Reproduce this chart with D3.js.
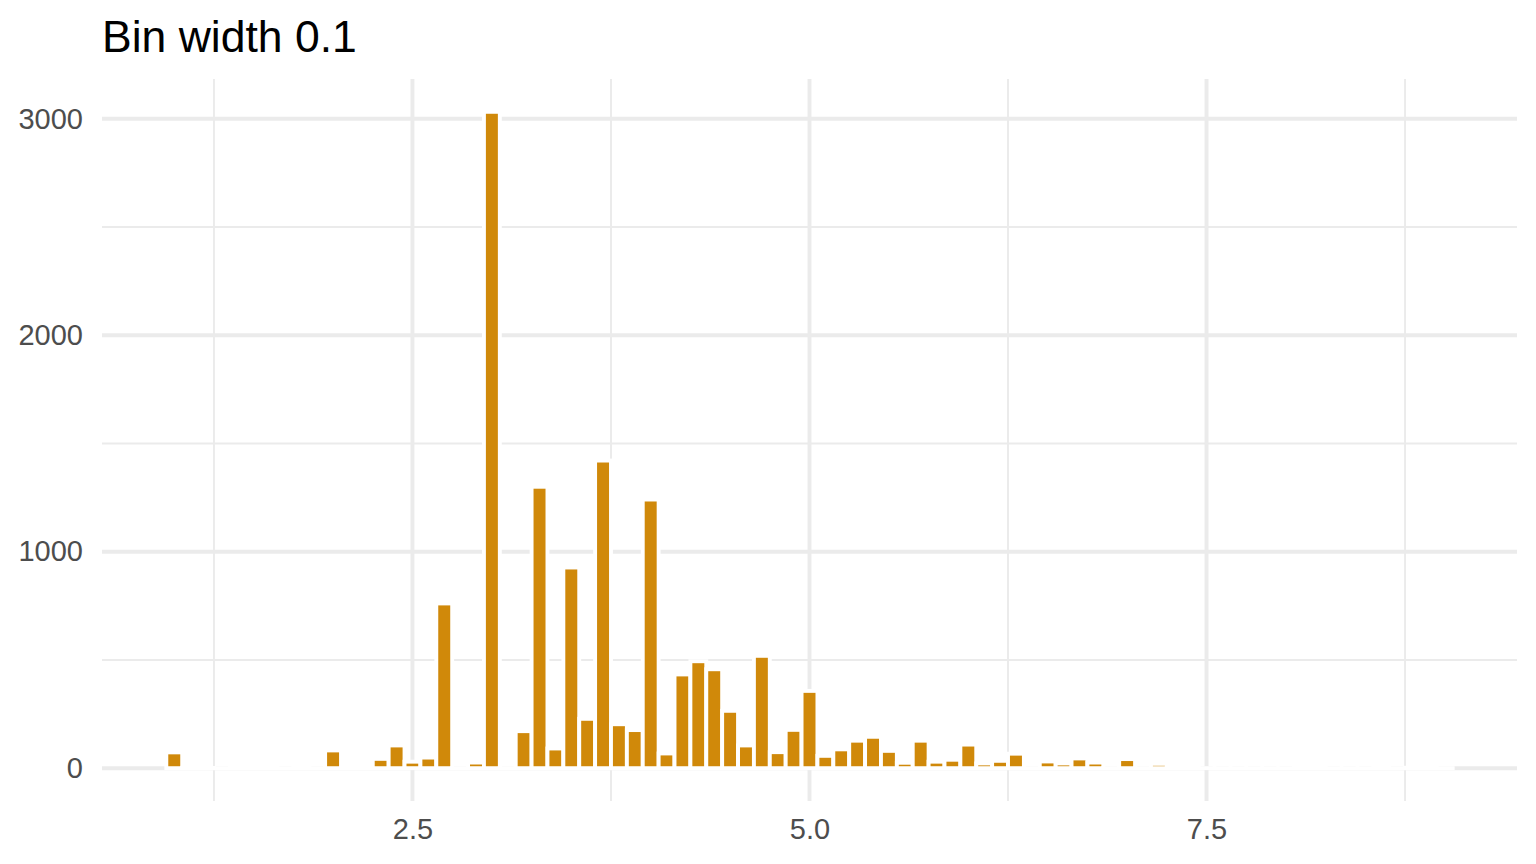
<!DOCTYPE html>
<html>
<head>
<meta charset="utf-8">
<script src="https://cdn.jsdelivr.net/npm/d3@7"></script>
<style>
  body { margin: 0; background: #fff; }
  svg { display: block; font-family: "Liberation Sans", Arial, sans-serif; }
</style>
</head>
<body>
<svg id="chart"></svg>
<script>
// bin centres (width 0.1) and counts
const binMids = [
  1.0, 1.1, 1.2, 1.3, 1.4, 1.5, 1.6, 1.7, 1.8, 1.9,
  2.0, 2.1, 2.2, 2.3, 2.4, 2.5, 2.6, 2.7, 2.8, 2.9,
  3.0, 3.1, 3.2, 3.3, 3.4, 3.5, 3.6, 3.7, 3.8, 3.9,
  4.0, 4.1, 4.2, 4.3, 4.4, 4.5, 4.6, 4.7, 4.8, 4.9,
  5.0, 5.1, 5.2, 5.3, 5.4, 5.5, 5.6, 5.7, 5.8, 5.9,
  6.0, 6.1, 6.2, 6.3, 6.4, 6.5, 6.6, 6.7, 6.8, 6.9,
  7.0, 7.1, 7.2, 7.3, 7.4, 7.5, 7.6, 7.7, 7.8, 7.9,
  8.0, 8.1, 8.2, 8.3, 8.4, 8.5, 8.6, 8.7, 8.8, 8.9,
  9.0
];
const counts = [
  73, 2, 1, 0, 1, 2, 1, 0, 1, 0,
  82, 2, 1, 43, 105, 30, 49, 761, 0, 26,
  3032, 0, 171, 1300, 91, 927, 228, 1421, 203, 176,
  1241, 68, 433, 494, 457, 265, 105, 519, 74, 177,
  357, 57, 87, 127, 145, 80, 25, 127, 30, 39,
  109, 22, 34, 67, 0, 31, 22, 45, 26, 0,
  42, 0, 20, 2, 1, 0, 0, 0, 0, 0,
  0, 1, 1, 0, 0, 0, 1, 0, 2, 1,
  0
];
const binWidth = 0.1;
const xMajor = [2.5, 5.0, 7.5];
const xMinor = [1.25, 3.75, 6.25, 8.75];
const yMajor = [0, 1000, 2000, 3000];
const yMinor = [500, 1500, 2500];
const title = "Bin width 0.1";

const W = 1536, H = 864;
const margin = { top: 79, right: 19, bottom: 63, left: 102 };

const svg = d3.select("#chart").attr("width", W).attr("height", H);

const bins = binMids.map((m, i) => ({ x0: m - binWidth / 2, x1: m + binWidth / 2, n: counts[i] }));

// ggplot-style 5% expansion
const xlo = d3.min(bins, d => d.x0), xhi = d3.max(bins, d => d.x1);
const xpad = (xhi - xlo) * 0.05;
const ymax = d3.max(counts), ypad = ymax * 0.05;

const x = d3.scaleLinear()
  .domain([xlo - xpad, xhi + xpad])
  .range([margin.left, W - margin.right]);
const y = d3.scaleLinear()
  .domain([-ypad, ymax + ypad])
  .range([H - margin.bottom, margin.top]);

const grid = svg.append("g").attr("stroke", "#EBEBEB").attr("fill", "none");
const [py0, py1] = y.range();
const [px0, px1] = x.range();

grid.selectAll(".xminor").data(xMinor).enter().append("line")
  .attr("x1", d => x(d)).attr("x2", d => x(d))
  .attr("y1", py0).attr("y2", py1).attr("stroke-width", 1.95);
grid.selectAll(".yminor").data(yMinor).enter().append("line")
  .attr("y1", d => y(d)).attr("y2", d => y(d))
  .attr("x1", px0).attr("x2", px1).attr("stroke-width", 1.95);
grid.selectAll(".xmajor").data(xMajor).enter().append("line")
  .attr("x1", d => x(d)).attr("x2", d => x(d))
  .attr("y1", py0).attr("y2", py1).attr("stroke-width", 3.9);
grid.selectAll(".ymajor").data(yMajor).enter().append("line")
  .attr("y1", d => y(d)).attr("y2", d => y(d))
  .attr("x1", px0).attr("x2", px1).attr("stroke-width", 3.9);

svg.append("g")
  .selectAll("rect")
  .data(bins)
  .enter()
  .append("rect")
  .attr("x", d => x(d.x0))
  .attr("width", d => x(d.x1) - x(d.x0))
  .attr("y", d => y(d.n))
  .attr("height", d => Math.max(0.01, y(0) - y(d.n)))
  .attr("fill", "#D0890A")
  .attr("stroke", "#fff")
  .attr("stroke-width", 3.9);

// axes, drawn as ggplot text without lines
const xAxis = svg.append("g")
  .attr("transform", `translate(0, ${py0})`)
  .call(d3.axisBottom(x).tickValues(xMajor).tickFormat(d3.format(".1f")).tickSize(0).tickPadding(17));
const yAxis = svg.append("g")
  .attr("transform", `translate(${px0}, 0)`)
  .call(d3.axisLeft(y).tickValues(yMajor).tickFormat(d3.format("d")).tickSize(0).tickPadding(19));

[xAxis, yAxis].forEach(a => {
  a.select(".domain").remove();
  a.selectAll("text")
    .attr("fill", "#4D4D4D")
    .style("font-size", "29px")
    .style("font-family", "\"Liberation Sans\", Arial, sans-serif");
});

svg.append("text")
  .attr("x", 102)
  .attr("y", 52)
  .attr("fill", "#000")
  .style("font-size", "44.5px")
  .text(title);
</script>
</body>
</html>
